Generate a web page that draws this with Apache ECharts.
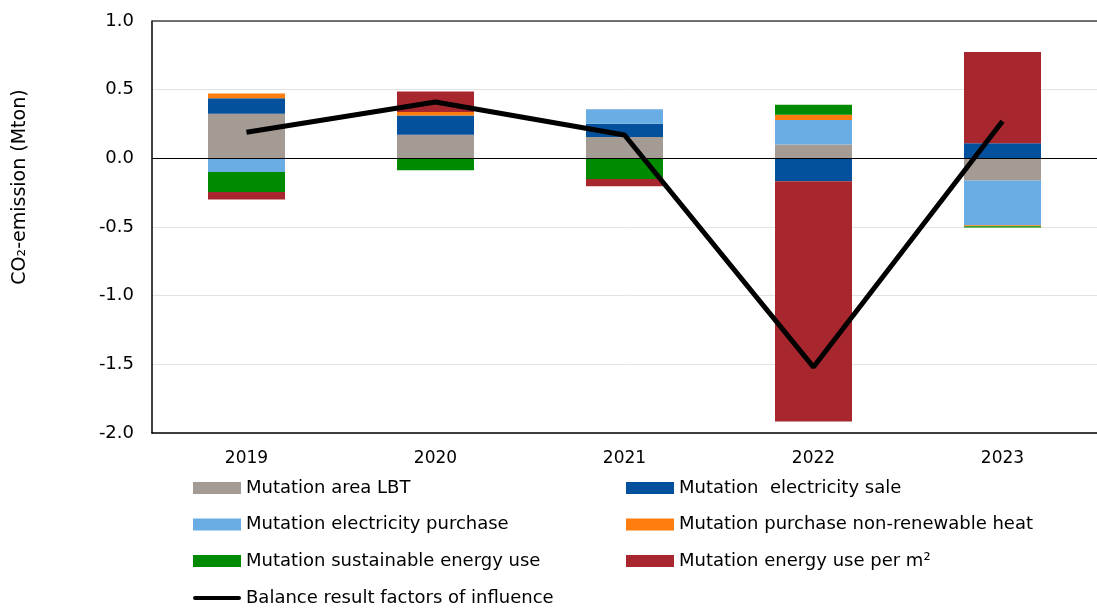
<!DOCTYPE html>
<html lang="en" style="height: 100%">

<head>
  <meta charset="utf-8">
</head>

<body style="height: 100%; margin: 0; background: #fff">
  <div id="container" style="height: 100%"></div>
  <script type="text/javascript" src="https://fastly.jsdelivr.net/npm/echarts@6/dist/echarts.min.js"></script>
  <script type="text/javascript">
    var dom = document.getElementById('container');
    var myChart = echarts.init(dom, null, { renderer: 'canvas' });

    // data (Mton CO2)
    const years = ['2019', '2020', '2021', '2022', '2023'];
    const areaLBT = [0.325, 0.172, 0.155, 0.100, -0.162];
    const elecSale = [0.113, 0.140, 0.097, -0.167, 0.109];
    const elecPurchase = [-0.100, 0, 0.106, 0.179, -0.325];
    const nonRenewHeat = [0.034, 0.025, 0, 0.039, -0.008];
    const sustainable = [-0.145, -0.087, -0.150, 0.073, -0.008];
    const energyPerM2 = [-0.055, 0.150, -0.053, -1.750, 0.666];
    const balance = [0.19, 0.41, 0.17, -1.52, 0.27];

    const font = 'DejaVu Sans, Verdana, sans-serif';

    function bar(name, data, color) {
      return {
        name: name,
        type: 'bar',
        stack: 'total',
        barWidth: 77,
        data: data,
        itemStyle: { color: color }
      };
    }

    var legendText = { color: '#000', fontSize: 18, fontFamily: font };
    function legend(left, top, data) {
      return {
        orient: 'vertical', left: left, top: top, itemWidth: 48, itemHeight: 12, itemGap: 18.5,
        icon: 'rect',
        textStyle: legendText,
        data: data
      };
    }

    var option = {
      animation: false,
      grid: { left: 152, top: 21, width: 953, height: 412 },
      xAxis: {
        type: 'category',
        data: years,
        axisLine: { onZero: false, lineStyle: { color: '#000', width: 1.5 } },
        axisTick: { show: false },
        axisLabel: { color: '#000', fontSize: 17, fontFamily: font, margin: 17 }
      },
      yAxis: {
        type: 'value',
        min: -2,
        max: 1,
        interval: 0.5,
        axisLine: { show: true, lineStyle: { color: '#000', width: 1.5 } },
        axisTick: { show: false },
        axisLabel: {
          color: '#000', fontSize: 18, fontFamily: font, margin: 18,
          formatter: v => v.toFixed(1)
        },
        splitLine: { lineStyle: { color: '#e3e3e3', width: 1 } }
      },
      legend: [
        legend(188, 474, ['Mutation area LBT', 'Mutation electricity purchase', 'Mutation sustainable energy use']),
        legend(621, 474, ['Mutation  electricity sale', 'Mutation purchase non-renewable heat', 'Mutation energy use per m²']),
        legend(188, 584, [{
          name: 'Balance result factors of influence',
          icon: 'path://M2,0 L46,0 A2,2 0 0 1 46,4 L2,4 A2,2 0 0 1 2,0 Z'
        }])
      ],
      graphic: [{
        type: 'text',
        x: 11,
        y: 187,
        rotation: Math.PI / 2,
        style: {
          text: 'CO₂-emission (Mton)',
          fill: '#000',
          font: '19px ' + font,
          align: 'center',
          verticalAlign: 'top'
        }
      }],
      series: [
        bar('Mutation area LBT', areaLBT, '#a39b94'),
        bar('Mutation  electricity sale', elecSale, '#03509c'),
        bar('Mutation electricity purchase', elecPurchase, '#6aade4'),
        bar('Mutation purchase non-renewable heat', nonRenewHeat, '#ff7d0f'),
        bar('Mutation sustainable energy use', sustainable, '#008a00'),
        bar('Mutation energy use per m²', energyPerM2, '#a8262e'),
        {
          name: 'Balance result factors of influence',
          type: 'line',
          data: balance,
          symbol: 'none',
          z: 5,
          lineStyle: { color: '#000', width: 5 },
          itemStyle: { color: '#000' },
          markLine: {
            silent: true,
            symbol: 'none',
            label: { show: false },
            lineStyle: { color: '#000', width: 1.2, type: 'solid' },
            data: [
              { yAxis: 0 },
              { yAxis: 1, lineStyle: { color: '#444', width: 1.5, type: 'solid' } }
            ]
          }
        }
      ]
    };

    myChart.setOption(option);
    window.addEventListener('resize', myChart.resize);
  </script>
</body>

</html>
